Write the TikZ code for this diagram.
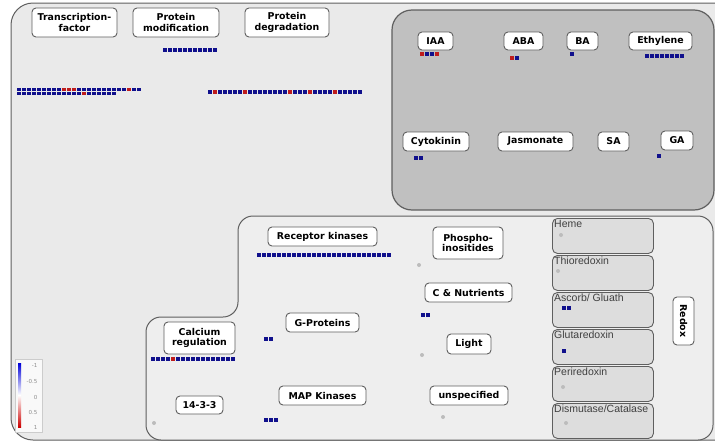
\documentclass[tikz,border=0pt]{standalone}
\usepackage{fontspec}
\setmainfont{DejaVu Sans}
\newfontfamily\redoxfont{Liberation Sans}
\usepackage{tikz}

\definecolor{negc}{RGB}{16,16,140}
\definecolor{posc}{RGB}{190,28,28}
\definecolor{panelc}{RGB}{234,234,234}
\definecolor{lowc}{RGB}{238,238,238}
\definecolor{hormc}{RGB}{192,192,192}
\definecolor{subc}{RGB}{221,221,221}
\definecolor{edgec}{RGB}{95,95,95}
\definecolor{dotc}{RGB}{188,188,188}

% row of blue squares: x of first square, centre y, count
\newcommand{\sqrow}[3]{\foreach \i in {1,...,#3}
  \fill[negc] ({#1+5*(\i-1)},{#2-1.75}) rectangle +(4,3.5);}
% red squares at given indices (from 0) of a row
\newcommand{\sqmark}[3]{\foreach \i in {#3}
  \fill[posc] ({#1+5*\i},{#2-1.75}) rectangle +(4,3.5);}
\newcommand{\graydot}[2]{\fill[dotc] (#1,#2) circle (2);}

\begin{document}
\begin{tikzpicture}[x=1pt,y=-1pt]
\tikzstyle{every node}+=[inner sep=0pt]
\tikzstyle{lbl}=[draw=edgec, fill=white, line width=0.9pt, rounded corners=4pt, align=center, font=\bfseries\fontsize{9.4}{10.8}\selectfont]
\tikzstyle{rbox}=[draw=edgec, fill=subc, line width=0.9pt, rounded corners=5pt, minimum width=101, minimum height=35, anchor=north west]
\tikzstyle{rlab}=[anchor=north west, inner sep=2pt, text=black!75, font=\redoxfont\fontsize{10.5}{11}\selectfont]
\tikzstyle{leg}=[anchor=east, text=black!45, font=\fontsize{5.5}{6}\selectfont]
\useasboundingbox (0,0) rectangle (715,442);

% panels
\draw [edgec, fill=panelc, line width=1pt, rounded corners=22pt] (718,3) -- (11,3) -- (11,440) -- (718,440);
\draw [edgec, fill=hormc, line width=1.2pt, rounded corners=20pt] (392,10) rectangle (714,210);
\draw [edgec, fill=lowc, line width=1pt, rounded corners=15pt] (146,440) -- (146,317) -- (238,317) -- (238,216) -- (713,216) -- (713,440) -- cycle;

% top row
\node [lbl, minimum width=85, minimum height=29] (tf) at (74.5,22.5) {Transcription-\\factor};
\node [lbl, minimum width=86, minimum height=29] (pmod) at (176,22.5) {Protein\\modification};
\node [lbl, minimum width=84, minimum height=29] (pdeg) at (287,22.5) {Protein\\degradation};
\sqrow{163}{50}{11}
\sqrow{17}{89.5}{25}
\sqmark{17}{89.5}{9,10,11,22}
\sqrow{17}{93.5}{20}
\sqmark{17}{93.5}{13}
\sqrow{208}{92}{31}
\sqmark{208}{92}{1,7,16,20,25}

% hormones
\node [lbl, minimum width=35, minimum height=18] (iaa) at (435.5,41) {IAA};
\node [lbl, minimum width=39, minimum height=18] (aba) at (523.5,41) {ABA};
\node [lbl, minimum width=31, minimum height=18] (ba) at (582.5,41) {BA};
\node [lbl, minimum width=63, minimum height=18] (eth) at (660.5,41) {Ethylene};
\node [lbl, minimum width=66, minimum height=19] (cyt) at (436,141.5) {Cytokinin};
\node [lbl, minimum width=75, minimum height=19] (jas) at (535.5,141.5) {Jasmonate};
\node [lbl, minimum width=31, minimum height=19] (sa) at (613.5,141.5) {SA};
\node [lbl, minimum width=32, minimum height=19] (ga) at (677,140.5) {GA};
\sqrow{420}{54}{4}
\sqmark{420}{54}{0,3}
\sqrow{510}{58}{2}
\sqmark{510}{58}{0}
\sqrow{570}{54}{1}
\sqrow{645}{56}{8}
\sqrow{414}{158}{2}
\sqrow{657}{156}{1}

% signalling
\node [lbl, minimum width=109, minimum height=19] (rk) at (322.5,236.5) {Receptor kinases};
\node [lbl, minimum width=73, minimum height=19] (gp) at (322.5,322.5) {G-Proteins};
\node [lbl, minimum width=71, minimum height=32] (ca) at (199.5,338) {Calcium\\regulation};
\node [lbl, minimum width=47, minimum height=18] (t33) at (199.5,405) {14-3-3};
\node [lbl, minimum width=87, minimum height=19] (map) at (322.5,395.5) {MAP Kinases};
\node [lbl, minimum width=70, minimum height=32] (phos) at (468,243) {Phospho-\\inositides};
\node [lbl, minimum width=87, minimum height=19] (cnut) at (468.5,292.5) {C \& Nutrients};
\node [lbl, minimum width=44, minimum height=20] (light) at (469,344) {Light};
\node [lbl, minimum width=78, minimum height=19] (unsp) at (469,395.5) {unspecified};
\sqrow{257}{255}{27}
\sqrow{264}{339}{2}
\sqrow{151}{359}{17}
\sqmark{151}{359}{4}
\sqrow{264}{420}{3}
\sqrow{421}{315}{2}
\graydot{154}{423}
\graydot{419}{265}
\graydot{422}{355}
\graydot{443}{417}

% redox
\node [rbox, label={[rlab]north west:Heme}] (heme) at (552,218) {};
\node [rbox, label={[rlab]north west:Thioredoxin}] (thio) at (552,255) {};
\node [rbox, label={[rlab]north west:Ascorb/ Gluath}] (asc) at (552,292) {};
\node [rbox, label={[rlab]north west:Glutaredoxin}] (glut) at (552,329) {};
\node [rbox, label={[rlab]north west:Periredoxin}] (peri) at (552,366) {};
\node [rbox, label={[rlab]north west:Dismutase/Catalase}] (dism) at (552,403) {};
\node [lbl, rotate=-90, minimum width=48, minimum height=21] (redox) at (683.5,321) {Redox};
\graydot{561}{235}
\graydot{558}{271}
\sqrow{562}{308}{2}
\sqrow{562}{351}{1}
\graydot{563}{387}
\graydot{566}{423}

% colour key
\draw [black!20, fill=white!70!panelc] (15,359) rectangle (42,432);
\shade [top color=blue!85!black, bottom color=red!80!black, middle color=white] (18,363) rectangle (21,427);
\foreach \v/\y [count=\k] in {-1/365,-0.5/381,0/397,0.5/412,1/427}
  \node [leg] (key\k) at (37.5,\y) {\v};
\end{tikzpicture}
\end{document}
